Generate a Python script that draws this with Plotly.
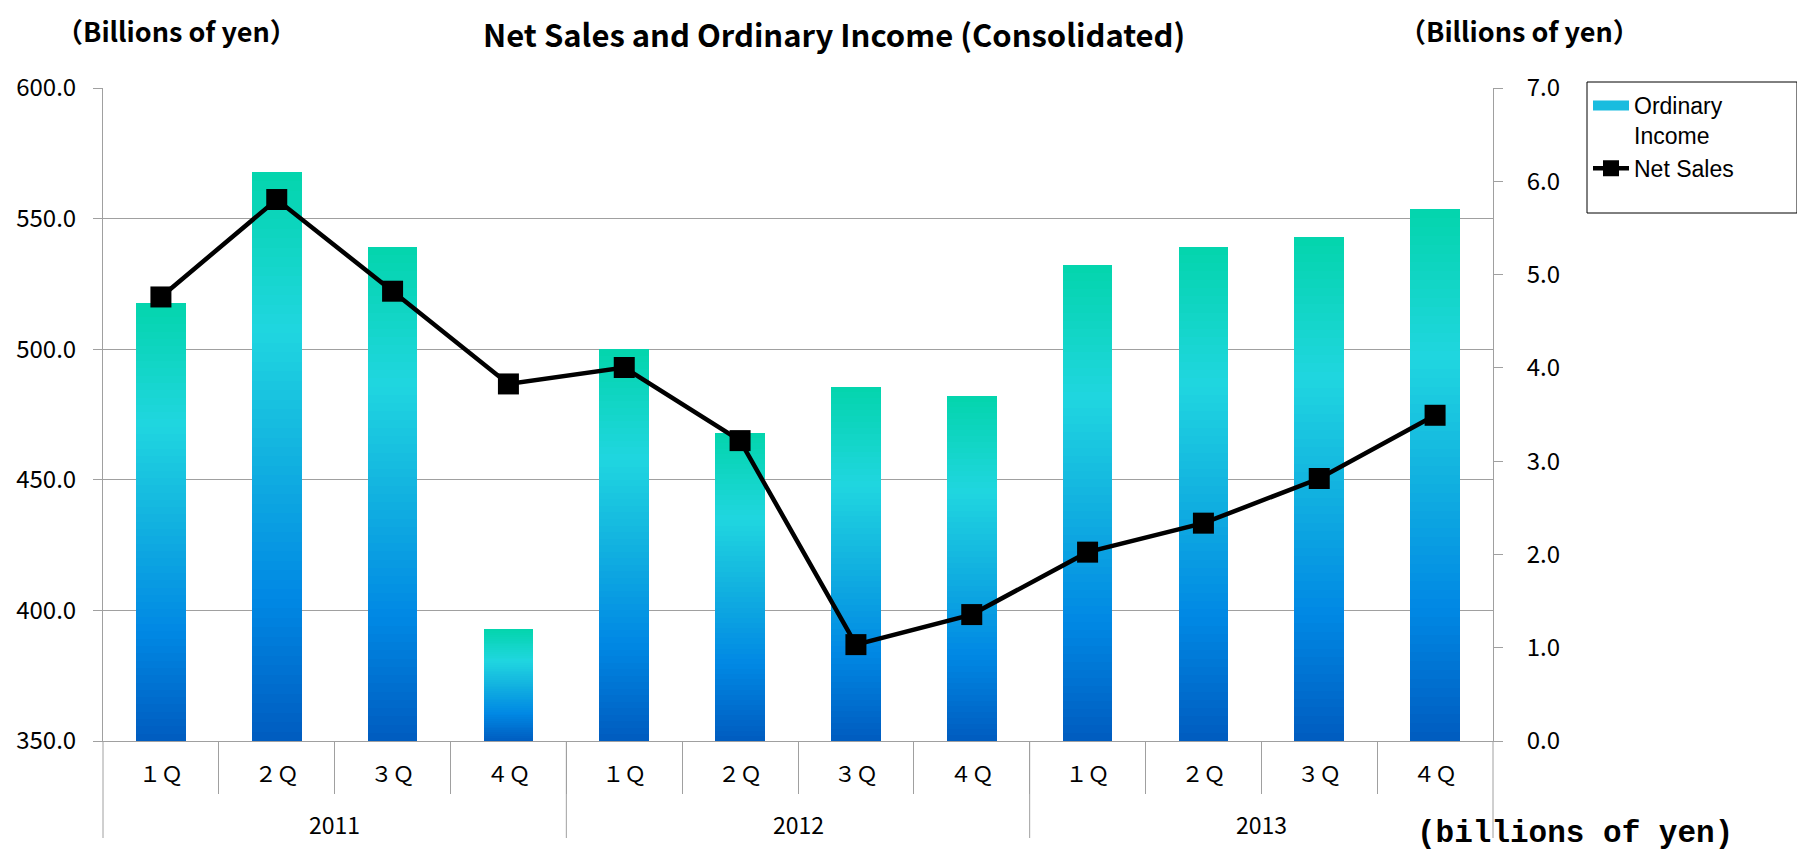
import plotly.graph_objects as go
from plotly.colors import sample_colorscale

years = ["2011"] * 4 + ["2012"] * 4 + ["2013"] * 4
quarters = ["１Ｑ", "２Ｑ", "３Ｑ", "４Ｑ"] * 3
net_sales = [520.0, 557.3, 522.2, 486.7, 493.0, 465.0, 386.9, 398.4, 422.3, 433.4, 450.5, 474.7]
ordinary_income = [4.7, 6.1, 5.3, 1.2, 4.2, 3.3, 3.8, 3.7, 5.1, 5.3, 5.4, 5.7]

title_text = "Net Sales and Ordinary Income (Consolidated)"
unit_left = "（Billions of yen）"
unit_right = "（Billions of yen）"
unit_bottom = "(billions of yen)"

gradient = [
    [0.0, "#005CBF"],
    [0.25, "#0088E4"],
    [0.5, "#12B2E0"],
    [0.72, "#20D6E0"],
    [1.0, "#03D5AC"],
]

FONT = "Noto Sans CJK JP"
GRID = "#A0A0A0"
W, H = 1805, 850
L, R, T, B = 95, 320, 80, 117
PW, PH = W - L - R, H - T - B
N = 60

pos = list(range(len(quarters)))
xr = [pos[0] - 0.5, pos[-1] + 0.5]


def px_x(px):
    return (px - L) / PW


def px_y(px):
    return (H - B - px) / PH


def data_to_paper_x(v):
    return (v - xr[0]) / (xr[1] - xr[0])


fig = go.Figure()
for k in range(N):
    col = sample_colorscale(gradient, [(k + 0.5) / N])[0]
    fig.add_trace(go.Bar(
        x=pos,
        y=[v / N for v in ordinary_income],
        marker=dict(color=col, line=dict(width=0)),
        yaxis="y",
        showlegend=False,
        hoverinfo="skip",
    ))

# legend entry for the bars
fig.add_trace(go.Scatter(
    x=[None], y=[None], mode="lines", yaxis="y",
    name="Ordinary<br>Income",
    line=dict(color="#19BCDF", width=10),
    legendrank=1,
))

fig.add_trace(go.Scatter(
    x=pos,
    y=net_sales,
    yaxis="y2",
    mode="lines+markers",
    name="Net Sales",
    line=dict(color="black", width=4.5),
    marker=dict(symbol="square", size=21, color="black"),
    legendrank=2,
))

# year groups
year_names = []
for y in years:
    if y not in year_names:
        year_names.append(y)
annotations = []
shapes = []
bounds = set()
for yname in year_names:
    idx = [p for p, y in zip(pos, years) if y == yname]
    annotations.append(dict(
        text=yname, xref="x", yref="paper", x=sum(idx) / len(idx), y=0,
        yshift=-83, xanchor="center", yanchor="middle", showarrow=False,
        font=dict(family=FONT, size=23, color="black")))
    bounds.add(min(idx) - 0.5)
    bounds.add(max(idx) + 0.5)
for b in sorted(bounds):
    shapes.append(dict(
        type="line", xref="paper", yref="paper",
        x0=data_to_paper_x(b), x1=data_to_paper_x(b),
        ysizemode="pixel", yanchor=0, y0=0, y1=-97,
        line=dict(color=GRID, width=1)))

# legend box
shapes.append(dict(
    type="rect", xref="paper", yref="paper",
    x0=px_x(1579), x1=px_x(1789), y0=px_y(205), y1=px_y(74),
    line=dict(color="black", width=1), fillcolor="rgba(0,0,0,0)"))

annotations += [
    dict(text="<b>" + title_text + "</b>", xref="paper", yref="paper",
         x=px_x(826), y=1.0, yshift=55, xanchor="center", yanchor="middle",
         showarrow=False, font=dict(family=FONT, size=31, color="black")),
    dict(text="<b>" + unit_left + "</b>", xref="paper", yref="paper",
         x=0.0, y=1.0, xshift=-49, yshift=58, xanchor="left", yanchor="middle",
         showarrow=False, font=dict(family=FONT, size=27, color="black")),
    dict(text="<b>" + unit_right + "</b>", xref="paper", yref="paper",
         x=1.0, y=1.0, xshift=-96, yshift=58, xanchor="left", yanchor="middle",
         showarrow=False, font=dict(family=FONT, size=27, color="black")),
    dict(text="<b>" + unit_bottom + "</b>", xref="paper", yref="paper",
         x=1.0, y=0.0, xshift=-78, yshift=-92, xanchor="left", yanchor="middle",
         showarrow=False, font=dict(family="Liberation Mono", size=31, color="black")),
]

fig.update_layout(
    width=W,
    height=H,
    margin=dict(l=L, r=R, t=T, b=B, autoexpand=False),
    paper_bgcolor="white",
    plot_bgcolor="white",
    barmode="stack",
    bargap=0.57,
    font=dict(family=FONT, size=20, color="black"),
    showlegend=True,
    legend=dict(
        x=px_x(1580), y=px_y(76), xanchor="left", yanchor="top",
        borderwidth=0, bgcolor="rgba(0,0,0,0)",
        font=dict(family="Liberation Sans", size=23, color="black"),
        valign="top",
        traceorder="normal",
        itemwidth=36,
        tracegroupgap=4,
    ),
    xaxis=dict(
        range=xr,
        tickmode="array", tickvals=pos, ticktext=quarters,
        ticks="", ticklabelstandoff=14,
        minor=dict(tickmode="array", tickvals=[p + 0.5 for p in pos[:-1]],
                   ticks="outside", ticklen=52, tickcolor=GRID, tickwidth=1,
                   showgrid=False),
        showline=True, linecolor=GRID, linewidth=1,
        tickfont=dict(family=FONT, size=22, color="black"),
        showgrid=False, zeroline=False,
        automargin=False,
    ),
    yaxis=dict(
        side="right",
        range=[0, 7], dtick=1, tickformat=".1f",
        showgrid=False, zeroline=False,
        showline=True, linecolor=GRID, linewidth=1,
        ticks="outside", ticklen=9, tickcolor=GRID,
        ticklabelstandoff=19,
        tickfont=dict(family=FONT, size=24, color="black"),
        automargin=False,
    ),
    yaxis2=dict(
        overlaying="y", side="left",
        range=[350, 600], dtick=50, tickformat=".1f",
        showgrid=True, gridcolor=GRID, gridwidth=1,
        zeroline=False,
        showline=True, linecolor=GRID, linewidth=1,
        ticks="outside", ticklen=9, tickcolor=GRID,
        ticklabelstandoff=12,
        tickfont=dict(family=FONT, size=24, color="black"),
        automargin=False,
    ),
    annotations=annotations,
    shapes=shapes,
)

fig.write_html("out.html")
